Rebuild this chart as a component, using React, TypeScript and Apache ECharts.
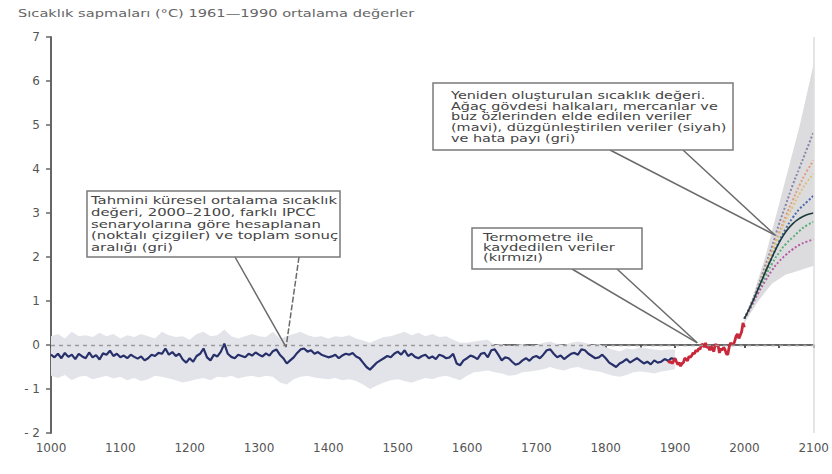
import React, { useEffect, useRef } from "react";
import * as echarts from "echarts";

const TITLE = "Sıcaklık sapmaları (°C) 1961—1990 ortalama değerler";

const BOX_IPCC = [
  "Tahmini küresel ortalama sıcaklık",
  "değeri, 2000–2100, farklı IPCC",
  "senaryolarına göre hesaplanan",
  "(noktalı çizgiler) ve toplam sonuç",
  "aralığı (gri)",
];
const BOX_PROXY = [
  "Yeniden oluşturulan sıcaklık değeri.",
  "Ağaç gövdesi halkaları, mercanlar ve",
  "buz özlerinden elde edilen veriler",
  "(mavi), düzgünleştirilen veriler (siyah)",
  "ve hata payı (gri)",
];
const BOX_THERMO = ["Termometre ile", "kaydedilen veriler", "(kırmızı)"];

// Proxy reconstruction (blue), every 5 years from 1000 to 1900
const PROXY_START = 1000;
const PROXY_STEP = 5;
const proxy = [
  -0.22, -0.28, -0.2, -0.3, -0.18, -0.27, -0.22, -0.32, -0.2, -0.26,
  -0.3, -0.17, -0.28, -0.23, -0.33, -0.19, -0.22, -0.13, -0.25, -0.2,
  -0.28, -0.24, -0.3, -0.22, -0.27, -0.31, -0.26, -0.35, -0.3, -0.22,
  -0.25, -0.18, -0.2, -0.08, -0.22, -0.16, -0.25, -0.2, -0.33, -0.4,
  -0.3, -0.38, -0.25, -0.2, -0.08, -0.28, -0.35, -0.22, -0.26, -0.15,
  0.03, -0.2, -0.27, -0.3, -0.22, -0.25, -0.28, -0.2, -0.24, -0.17,
  -0.22, -0.26, -0.19, -0.24, -0.14, -0.1, -0.22, -0.3, -0.42, -0.35,
  -0.28, -0.18, -0.1, -0.08, -0.15, -0.12, -0.2, -0.16, -0.22, -0.25,
  -0.28, -0.26, -0.22, -0.3, -0.24, -0.2, -0.22, -0.18, -0.26, -0.3,
  -0.4, -0.5, -0.56, -0.48, -0.4, -0.35, -0.3, -0.25, -0.28, -0.2,
  -0.15, -0.22, -0.12, -0.25, -0.2, -0.27, -0.3, -0.25, -0.22, -0.3,
  -0.26, -0.32, -0.22, -0.25, -0.3, -0.28, -0.2, -0.42, -0.46, -0.35,
  -0.3, -0.24, -0.27, -0.32, -0.2, -0.18, -0.28, -0.12, -0.1, -0.22,
  -0.35, -0.28, -0.3, -0.38, -0.45, -0.42, -0.35, -0.3, -0.36, -0.28,
  -0.25, -0.3, -0.22, -0.12, -0.1, -0.2, -0.28, -0.24, -0.32, -0.26,
  -0.2, -0.18, -0.22, -0.1, -0.12, -0.2, -0.25, -0.3, -0.28, -0.22,
  -0.3, -0.4, -0.45, -0.5, -0.42, -0.38, -0.32, -0.4, -0.35, -0.3,
  -0.36, -0.42, -0.38, -0.44, -0.35, -0.4, -0.38, -0.32, -0.36, -0.3,
  -0.33,
];

// Error band (grey), every 10 years from 1000 to 1900
const BAND_START = 1000;
const BAND_STEP = 10;
const bandUpper = [
  0.2, 0.25, 0.15, 0.3, 0.2, 0.22, 0.18, 0.28, 0.2, 0.25,
  0.15, 0.22, 0.18, 0.25, 0.2, 0.15, 0.3, 0.22, 0.18, 0.2,
  0.12, 0.25, 0.3, 0.2, 0.22, 0.35, 0.2, 0.15, 0.2, 0.25,
  0.2, 0.18, 0.3, 0.15, 0.2, 0.25, 0.3, 0.22, 0.18, 0.2,
  0.15, 0.2, 0.18, 0.22, 0.15, 0.1, 0.05, 0.12, 0.18, 0.2,
  0.25, 0.3, 0.22, 0.28, 0.2, 0.25, 0.18, 0.2, 0.12, 0.05,
  0.05, 0.08, 0.1, 0.12, 0.0, 0.02, -0.05, 0.0, 0.02, -0.02,
  0.0, 0.05, 0.08, 0.02, 0.0, 0.05, 0.08, 0.05, 0.0, 0.02,
  -0.05, -0.1, -0.15, -0.08, -0.1, -0.05, -0.08, -0.1, -0.12, -0.1,
  -0.1,
];
const bandLower = [
  -0.7, -0.75, -0.68, -0.8, -0.72, -0.7, -0.78, -0.74, -0.7, -0.76,
  -0.72, -0.8, -0.75, -0.82, -0.78, -0.7, -0.72, -0.76, -0.8, -0.85,
  -0.82, -0.78, -0.75, -0.8, -0.72, -0.74, -0.7, -0.76, -0.72, -0.7,
  -0.74, -0.7, -0.72, -0.85, -0.9, -0.78, -0.72, -0.7, -0.74, -0.76,
  -0.78, -0.75, -0.8, -0.78, -0.82, -0.9, -1.0, -0.92, -0.85, -0.8,
  -0.78, -0.82, -0.86, -0.8, -0.75, -0.78, -0.72, -0.7, -0.75, -0.8,
  -0.7, -0.62, -0.6, -0.58, -0.62, -0.65, -0.7, -0.68, -0.62, -0.6,
  -0.58, -0.55, -0.5, -0.55, -0.58, -0.52, -0.5, -0.55, -0.58, -0.6,
  -0.65, -0.7, -0.72, -0.68, -0.62, -0.6, -0.62, -0.65, -0.6, -0.58,
  -0.55,
];

// Thermometer record (red), every 2 years from 1890 to 2000
const THERMO_START = 1890;
const THERMO_STEP = 2;
const thermo = [
  -0.35, -0.4, -0.38, -0.42, -0.36, -0.3, -0.38, -0.45, -0.4, -0.48,
  -0.42, -0.4, -0.3, -0.32, -0.36, -0.26, -0.28, -0.24, -0.18, -0.2,
  -0.12, -0.15, -0.08, -0.1, 0.0, 0.02, -0.05, 0.05, -0.06, -0.04,
  -0.12, -0.02, -0.1, -0.15, 0.02, -0.02, 0.0, -0.18, -0.08, -0.12,
  -0.05, -0.1, -0.2, -0.22, -0.05, 0.05, 0.0, 0.02, 0.08, 0.2,
  0.25, 0.15, 0.22, 0.3, 0.5, 0.4,
];

// Projections 2000–2100, every 10 years
const PROJ_START = 2000;
const PROJ_STEP = 10;
const projUpper = [0.6, 1.0, 1.5, 2.0, 2.6, 3.2, 3.8, 4.4, 5.0, 5.7, 6.4];
const projLower = [0.5, 0.75, 1.0, 1.2, 1.4, 1.5, 1.6, 1.65, 1.7, 1.75, 1.8];
const scenA1FI = [0.6, 0.95, 1.35, 1.8, 2.25, 2.75, 3.2, 3.65, 4.05, 4.45, 4.85];
const scenA2 = [0.6, 0.92, 1.3, 1.72, 2.15, 2.55, 2.95, 3.3, 3.65, 3.95, 4.2];
const scenA1T = [0.6, 0.93, 1.3, 1.7, 2.1, 2.5, 2.85, 3.15, 3.45, 3.7, 3.9];
const scenA1B = [0.6, 0.92, 1.28, 1.65, 2.0, 2.35, 2.65, 2.9, 3.1, 3.25, 3.4];
const ensemble = [0.6, 0.92, 1.28, 1.65, 2.0, 2.32, 2.58, 2.76, 2.88, 2.96, 3.0];
const scenB2 = [0.6, 0.9, 1.22, 1.55, 1.85, 2.1, 2.3, 2.45, 2.6, 2.72, 2.8];
const scenB1 = [0.6, 0.88, 1.18, 1.45, 1.7, 1.9, 2.05, 2.18, 2.28, 2.35, 2.4];

const SCENARIOS = [
  { name: "A1FI", data: scenA1FI, color: "#8a84a6" },
  { name: "A2", data: scenA2, color: "#e59a7c" },
  { name: "A1T", data: scenA1T, color: "#dcc277" },
  { name: "A1B", data: scenA1B, color: "#4c68a6" },
  { name: "B2", data: scenB2, color: "#5aad78" },
  { name: "B1", data: scenB1, color: "#b65aa6" },
];

const pairs = (vals: number[], start: number, step: number) =>
  vals.map((v, i) => [start + i * step, v]);

const bandSeries = (up: number[], lo: number[], start: number, step: number, fill: string) => ({
  type: "custom",
  silent: true,
  z: 1,
  data: [[start, up[0]]],
  renderItem: (_p: any, api: any) => {
    const pts: number[][] = [];
    up.forEach((v, i) => pts.push(api.coord([start + i * step, v])));
    for (let i = lo.length - 1; i >= 0; i--) pts.push(api.coord([start + i * step, lo[i]]));
    return { type: "polygon", shape: { points: pts }, style: { fill } };
  },
});

const FONT = "DejaVu Sans";

export default function App() {
  const ref = useRef<HTMLDivElement>(null);
  useEffect(() => {
    document.body.style.margin = "0";
    const chart = echarts.init(ref.current!, null, { renderer: "svg" });
    const series: any[] = [
      bandSeries(bandUpper, bandLower, BAND_START, BAND_STEP, "#e3e4e9"),
      bandSeries(projUpper, projLower, PROJ_START, PROJ_STEP, "#dcdcdf"),
      {
        type: "line",
        name: "proxy",
        data: pairs(proxy, PROXY_START, PROXY_STEP),
        showSymbol: false,
        z: 3,
        lineStyle: { color: "#27306a", width: 2.2 },
        markLine: {
          silent: true,
          symbol: "none",
          label: { show: false },
          data: [
            { yAxis: 0, lineStyle: { type: [4, 4], color: "#9a9a9a", width: 1.3 } },
            { xAxis: 2100, lineStyle: { type: "solid", color: "#dcdcdc", width: 1.5 } },
          ],
        },
      },
      {
        type: "line",
        name: "thermo",
        data: pairs(thermo, THERMO_START, THERMO_STEP),
        showSymbol: false,
        z: 4,
        lineStyle: { color: "#c8283a", width: 2.8 },
      },
      ...SCENARIOS.map((s) => ({
        type: "line",
        name: s.name,
        data: pairs(s.data, PROJ_START, PROJ_STEP),
        showSymbol: false,
        smooth: true,
        z: 3,
        lineStyle: { color: s.color, width: 2, type: [2, 2] },
      })),
      {
        type: "line",
        name: "ensemble",
        data: pairs(ensemble, PROJ_START, PROJ_STEP),
        showSymbol: false,
        smooth: true,
        z: 4,
        lineStyle: { color: "#1d3b3b", width: 1.6 },
      },
    ];

    chart.setOption({
      animation: false,
      backgroundColor: "#ffffff",
      grid: { left: 51, right: 15, top: 37, bottom: 41 },
      xAxis: {
        type: "value",
        min: 1000,
        max: 2100,
        interval: 50,
        splitLine: { show: false },
        axisLine: { lineStyle: { color: "#666", width: 2 } },
        axisTick: { length: 3, lineStyle: { color: "#555", width: 2 } },
        axisLabel: {
          formatter: (v: number) => (v % 100 === 0 ? String(v) : ""),
          color: "#555",
          fontSize: 12,
          fontFamily: FONT,
          margin: 9,
        },
      },
      yAxis: {
        type: "value",
        min: -2,
        max: 7,
        interval: 1,
        splitLine: { show: false },
        axisLine: { show: true, lineStyle: { color: "#666", width: 2 } },
        axisTick: { show: true, length: 5, lineStyle: { color: "#666", width: 1.5 } },
        axisLabel: {
          formatter: (v: number) => (v < 0 ? "- " + Math.abs(v) : String(v)),
          color: "#555",
          fontSize: 12,
          fontFamily: FONT,
          margin: 11,
        },
      },
      series,
    });

    const px = (x: number, y: number) => chart.convertToPixel({ gridIndex: 0 }, [x, y]) as number[];
    const a1 = px(1339, -0.05);
    const a2 = px(2044, 2.5);
    const a3 = px(1932, 0.05);

    const lineStyle = { stroke: "#6a6a6a", lineWidth: 1.5 };
    const leader = (x1: number, y1: number, p: number[], dashed = false) => ({
      type: "line",
      z: 50,
      shape: { x1, y1, x2: p[0], y2: p[1] },
      style: dashed ? { ...lineStyle, lineDash: [6, 2] } : lineStyle,
    });
    const box = (x: number, y: number, w: number, h: number) => ({
      type: "rect",
      z: 51,
      shape: { x, y, width: w, height: h },
      style: { fill: "#ffffff", stroke: "#7a7a7a", lineWidth: 1.5 },
    });
    const txtLines = (
      x: number,
      y: number,
      lines: string[],
      size: number,
      lh: number,
      sx: number,
      fill = "#444"
    ) =>
      lines.map((line, i) => ({
        type: "text",
        z: 52,
        x,
        y: y + i * lh,
        scaleX: sx,
        style: {
          text: line,
          font: `${size}px "${FONT}"`,
          fill,
          textVerticalAlign: "top",
        },
      }));

    chart.setOption({
      graphic: [
        ...txtLines(18, 8, [TITLE], 11, 12, 1.33, "#666"),
        leader(235, 257, a1),
        leader(299, 257, a1, true),
        box(87, 191, 253, 66),
        ...txtLines(91, 195, BOX_IPCC, 11, 11.7, 1.35),
        leader(610, 150, a2),
        leader(683, 150, a2),
        box(433, 83, 300, 67),
        ...txtLines(451, 90, BOX_PROXY, 10.3, 10.8, 1.4),
        leader(572, 269, a3),
        leader(617, 269, a3),
        box(472, 228, 170, 41),
        ...txtLines(483, 232, BOX_THERMO, 9.8, 10, 1.5),
      ],
    });

    return () => chart.dispose();
  }, []);

  return (
    <div
      ref={ref}
      style={{ position: "absolute", left: 0, top: 0, width: 832, height: 474 }}
    />
  );
}
